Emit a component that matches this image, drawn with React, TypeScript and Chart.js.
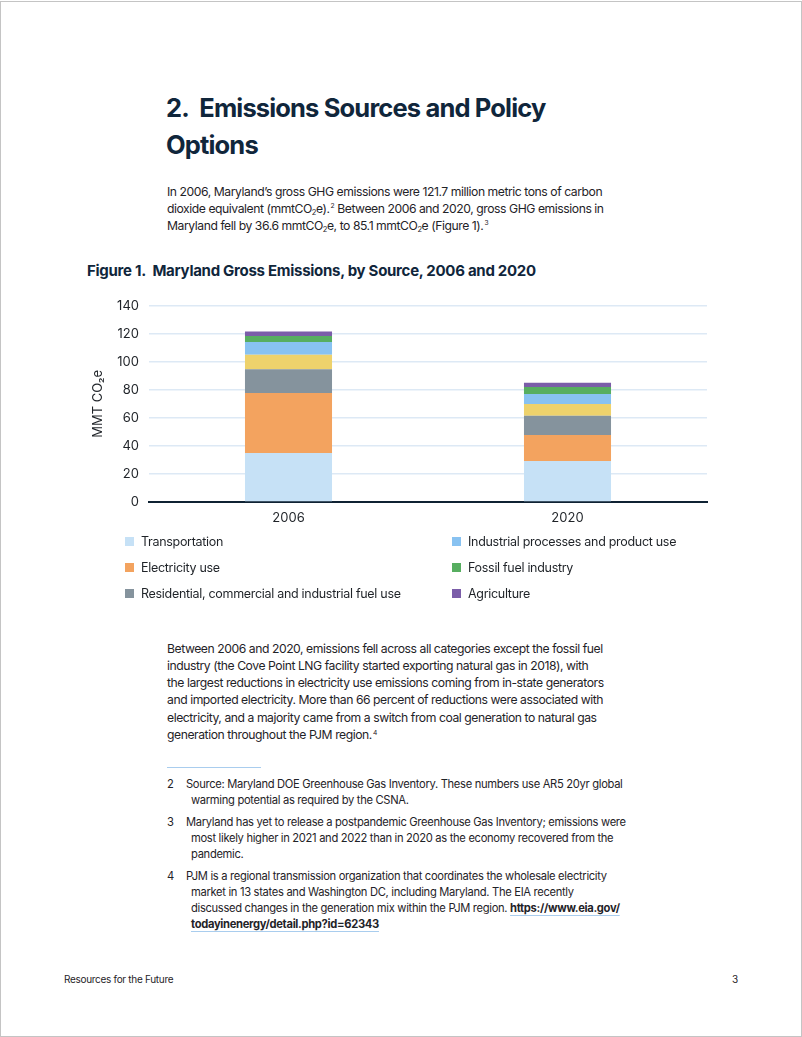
import React, { useEffect, useRef } from "react";
import { Chart, registerables } from "chart.js";

Chart.register(...registerables);

const categories = ["2006", "2020"];
const transportation = [35.0, 29.3];
const electricityUse = [42.7, 18.5];
const residentialFuel = [17.0, 13.8];
const waste = [10.3, 8.4];
const industrialProcesses = [9.2, 7.1];
const fossilFuelIndustry = [4.2, 4.9];
const agriculture = [3.3, 3.1];
const yTicks = [0, 20, 40, 60, 80, 100, 120, 140];

const COLORS = {
  transportation: "#c6e1f6",
  electricity: "#f3a35f",
  residential: "#85939d",
  waste: "#eed26c",
  industrial: "#88c2f1",
  fossil: "#57ae60",
  agriculture: "#7b5da9",
};

const FONT = "Inter, 'Noto Sans', sans-serif";
const TEXT = "#1f2328";
const NAVY = "#10263b";

const legendCol1 = [
  { label: "Transportation", color: COLORS.transportation },
  { label: "Electricity use", color: COLORS.electricity },
  { label: "Residential, commercial and industrial fuel use", color: COLORS.residential },
];
const legendCol2 = [
  { label: "Industrial processes and product use", color: COLORS.industrial },
  { label: "Fossil fuel industry", color: COLORS.fossil },
  { label: "Agriculture", color: COLORS.agriculture },
];

function Sub({ children }: { children: React.ReactNode }) {
  return (
    <span style={{ fontSize: "0.62em", position: "relative", top: "0.35em", lineHeight: 0 }}>{children}</span>
  );
}
function Sup({ children }: { children: React.ReactNode }) {
  return (
    <span style={{ fontSize: "0.55em", position: "relative", top: "-0.6em", lineHeight: 0, marginLeft: 1 }}>{children}</span>
  );
}

function Line({ top, left, children, size, lh, weight, color, spacing }: any) {
  return (
    <div
      style={{
        position: "absolute",
        top,
        left,
        fontSize: size,
        lineHeight: lh + "px",
        height: lh,
        fontWeight: weight || 400,
        color: color || TEXT,
        whiteSpace: "nowrap",
        letterSpacing: spacing || 0,
      }}
    >
      {children}
    </div>
  );
}

function ChartBox() {
  const ref = useRef<HTMLCanvasElement | null>(null);
  useEffect(() => {
    if (!ref.current) return;
    const chart = new Chart(ref.current, {
      type: "bar",
      data: {
        labels: categories,
        datasets: [
          { label: "Transportation", data: transportation, backgroundColor: COLORS.transportation },
          { label: "Electricity use", data: electricityUse, backgroundColor: COLORS.electricity },
          { label: "Residential, commercial and industrial fuel use", data: residentialFuel, backgroundColor: COLORS.residential },
          { label: "Waste", data: waste, backgroundColor: COLORS.waste },
          { label: "Industrial processes and product use", data: industrialProcesses, backgroundColor: COLORS.industrial },
          { label: "Fossil fuel industry", data: fossilFuelIndustry, backgroundColor: COLORS.fossil },
          { label: "Agriculture", data: agriculture, backgroundColor: COLORS.agriculture },
        ],
      },
      options: {
        animation: false,
        responsive: false,
        maintainAspectRatio: false,
        layout: { padding: { top: 8, right: 14, left: 0, bottom: 0 } },
        datasets: { bar: { categoryPercentage: 1, barPercentage: 0.312 } } as any,
        plugins: { legend: { display: false }, tooltip: { enabled: false } },
        scales: {
          x: {
            stacked: true,
            grid: { display: false, drawTicks: false },
            border: { color: "#0f2233", width: 2 },
            ticks: { color: TEXT, font: { family: FONT, size: 13 }, padding: 8 },
            afterFit: (s: any) => {
              s.height = 32;
            },
          },
          y: {
            stacked: true,
            min: 0,
            max: 140,
            afterBuildTicks: (s: any) => {
              s.ticks = yTicks.map((v) => ({ value: v }));
            },
            grid: { color: "#dde9f5", lineWidth: 1.5, drawTicks: false },
            border: { display: false },
            ticks: { color: TEXT, font: { family: FONT, size: 13 }, padding: 10 },
            title: {
              display: true,
              text: "MMT CO₂e",
              color: TEXT,
              font: { family: FONT, size: 13 },
              padding: { top: 9, bottom: 0 },
            },
            afterFit: (s: any) => {
              s.width = 68;
            },
          },
        },
      },
    });
    return () => chart.destroy();
  }, []);
  return (
    <canvas
      ref={ref}
      width={640}
      height={246}
      style={{ position: "absolute", left: 80, top: 286, width: 640, height: 246 }}
    />
  );
}

export default function App() {
  const bodySize = 12.2;
  const bodySp = -0.45;
  const p1 = [
    <>In 2006, Maryland’s gross GHG emissions were 121.7 million metric tons of carbon</>,
    <>dioxide equivalent (mmtCO<Sub>2</Sub>e).<Sup>2</Sup> Between 2006 and 2020, gross GHG emissions in</>,
    <>Maryland fell by 36.6 mmtCO<Sub>2</Sub>e, to 85.1 mmtCO<Sub>2</Sub>e (Figure 1).<Sup>3</Sup></>,
  ];
  const p2 = [
    "Between 2006 and 2020, emissions fell across all categories except the fossil fuel",
    "industry (the Cove Point LNG facility started exporting natural gas in 2018), with",
    "the largest reductions in electricity use emissions coming from in-state generators",
    "and imported electricity. More than 66 percent of reductions were associated with",
    "electricity, and a majority came from a switch from coal generation to natural gas",
  ];
  const linkStyle: React.CSSProperties = {
    fontWeight: 700,
    textDecoration: "underline",
    textDecorationColor: "#a9cdee",
    textUnderlineOffset: 3,
  };
  const fnSize = 11.2;
  const fnSp = -0.32;
  return (
    <div
      style={{
        position: "absolute",
        left: 0,
        top: 1,
        width: 800,
        height: 1034,
        border: "1px solid #c4c4c4",
        background: "#fff",
        fontFamily: FONT,
        overflow: "hidden",
      }}
    >
      <Line top={87} left={165} size={25.5} lh={37} weight={700} color={NAVY} spacing={-0.85}>
        2.&nbsp; Emissions Sources and Policy
      </Line>
      <Line top={124} left={165} size={25.5} lh={37} weight={700} color={NAVY} spacing={-0.85}>
        Options
      </Line>

      {p1.map((t, i) => (
        <Line key={i} top={180.5 + i * 17} left={166} size={bodySize} lh={17} spacing={bodySp}>
          {t}
        </Line>
      ))}

      <Line top={259} left={86} size={15} lh={20} weight={700} color={NAVY} spacing={-0.28}>
        Figure 1.&nbsp; Maryland Gross Emissions, by Source, 2006 and 2020
      </Line>

      <ChartBox />

      {[legendCol1, legendCol2].map((col, ci) =>
        col.map((item, ri) => (
          <div
            key={ci + "-" + ri}
            style={{
              position: "absolute",
              left: ci === 0 ? 124 : 451,
              top: 530 + ri * 26,
              height: 18,
              display: "flex",
              alignItems: "center",
              whiteSpace: "nowrap",
              fontSize: 12.5,
              letterSpacing: -0.3,
              color: TEXT,
            }}
          >
            <span style={{ width: 9, height: 9, background: item.color, display: "inline-block", marginRight: 7 }} />
            {item.label}
          </div>
        ))
      )}

      {p2.map((t, i) => (
        <Line key={i} top={637.5 + i * 17.3} left={166} size={bodySize} lh={17} spacing={bodySp}>
          {t}
        </Line>
      ))}
      <Line top={637.5 + 5 * 17.3} left={166} size={bodySize} lh={17} spacing={bodySp}>
        generation throughout the PJM region.<Sup>4</Sup>
      </Line>

      <div style={{ position: "absolute", left: 166, top: 765, width: 94, height: 1, background: "#a9cdee" }} />

      {[
        { n: "2", top: 774, first: "Source: Maryland DOE Greenhouse Gas Inventory. These numbers use AR5 20yr global", rest: ["warming potential as required by the CSNA."] },
        { n: "3", top: 812, first: "Maryland has yet to release a postpandemic Greenhouse Gas Inventory; emissions were", rest: ["most likely higher in 2021 and 2022 than in 2020 as the economy recovered from the", "pandemic."] },
      ].map((fn) => (
        <React.Fragment key={fn.n}>
          <Line top={fn.top} left={166} size={fnSize} lh={16} spacing={fnSp}>{fn.n}</Line>
          <Line top={fn.top} left={185} size={fnSize} lh={16} spacing={fnSp}>{fn.first}</Line>
          {fn.rest.map((r, i) => (
            <Line key={i} top={fn.top + 16 * (i + 1)} left={190} size={fnSize} lh={16} spacing={fnSp}>{r}</Line>
          ))}
        </React.Fragment>
      ))}
      <Line top={866} left={166} size={fnSize} lh={16} spacing={fnSp}>4</Line>
      <Line top={866} left={185} size={fnSize} lh={16} spacing={fnSp}>
        PJM is a regional transmission organization that coordinates the wholesale electricity
      </Line>
      <Line top={882} left={190} size={fnSize} lh={16} spacing={fnSp}>
        market in 13 states and Washington DC, including Maryland. The EIA recently
      </Line>
      <Line top={898} left={190} size={fnSize} lh={16} spacing={fnSp}>
        discussed changes in the generation mix within the PJM region. <span style={linkStyle}>https://www.eia.gov/</span>
      </Line>
      <Line top={914} left={190} size={fnSize} lh={16} spacing={fnSp}>
        <span style={linkStyle}>todayinenergy/detail.php?id=62343</span>
      </Line>

      <Line top={970} left={63} size={10} lh={14} spacing={-0.3}>Resources for the Future</Line>
      <Line top={970} left={731} size={10} lh={14}>3</Line>
    </div>
  );
}
